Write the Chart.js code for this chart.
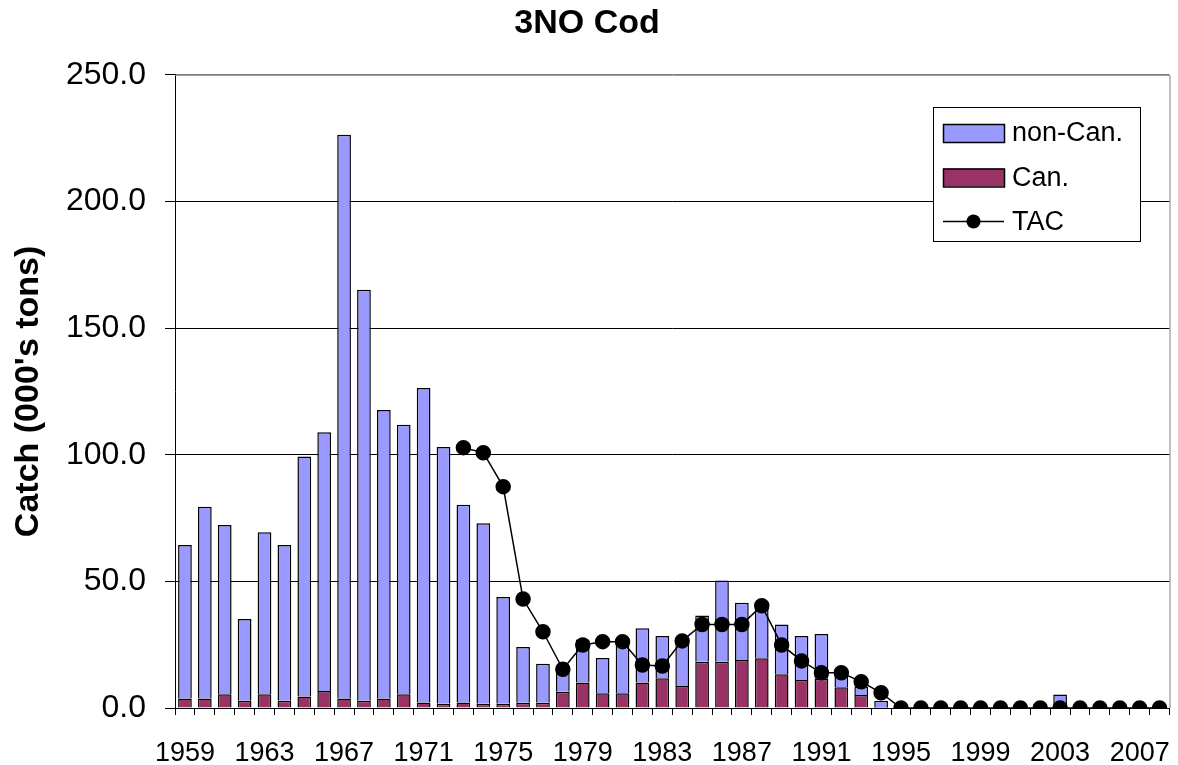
<!DOCTYPE html>
<html>
<head>
<meta charset="utf-8">
<script src="https://cdn.jsdelivr.net/npm/chart.js@4.4.1/dist/chart.umd.min.js"></script>
<style>
  html, body { margin: 0; padding: 0; background: #fff; }
  #wrap { width: 1178px; height: 765px; }
</style>
</head>
<body>
<div id="wrap"><canvas id="chart"></canvas></div>
<script>
// Years on the category axis
const years = [];
for (let y = 1959; y <= 2008; y++) years.push(String(y));

// Canadian catch (000's tons)
const canCatch = [
  3.8, 3.8, 5.4, 2.9, 5.4, 2.9, 4.5, 6.7, 3.8, 2.9,
  3.8, 5.4, 2.2, 1.7, 2.2, 1.7, 1.7, 2.1, 2.1, 6.4,
  10.1, 5.8, 5.8, 10.1, 11.7, 8.7, 18.3, 18.3, 19.0, 19.6,
  13.3, 11.1, 11.5, 8.2, 5.1, 0.1, 0, 0, 0, 0,
  0, 0, 0, 0, 0, 0, 0, 0, 0, 0
];

// Non-Canadian catch (000's tons)
const nonCanCatch = [
  60.6, 75.7, 66.9, 32.2, 64.0, 61.5, 94.8, 102.2, 222.5, 162.2,
  113.9, 106.4, 124.1, 101.3, 78.0, 71.2, 42.1, 22.0, 15.4, 8.6,
  16.9, 13.9, 19.2, 21.4, 16.7, 17.3, 18.2, 32.0, 22.6, 22.4,
  19.7, 17.3, 17.7, 4.3, 3.4, 2.8, 0, 0, 0, 0,
  0, 0, 0, 0, 5.3, 0, 0, 0, 0, 0
];

// Total allowable catch (no TAC before 1973)
const tac = [
  null, null, null, null, null, null, null, null, null, null,
  null, null, null, null, 102.8, 100.8, 87.4, 43.0, 30.1, 15.3,
  24.9, 26.2, 26.2, 17.0, 16.6, 26.5, 33.0, 33.0, 33.0, 40.4,
  24.9, 18.6, 13.9, 13.9, 10.4, 6.0, 0, 0, 0, 0,
  0, 0, 0, 0, 0, 0, 0, 0, 0, 0
];

const yTicks = [0, 50, 100, 150, 200, 250];

const FONT = 'Arial, "Liberation Sans", sans-serif';

// Excel-style plot border (grey top/right) and legend box inside the plot
const frameAndLegend = {
  id: 'frameAndLegend',
  afterDraw(chart) {
    const ctx = chart.ctx;
    const a = chart.chartArea;
    ctx.save();
    ctx.strokeStyle = '#808080';
    ctx.lineWidth = 1;
    ctx.beginPath();
    ctx.moveTo(a.left, a.top + 0.5);
    ctx.lineTo(a.right + 0.5, a.top + 0.5);
    ctx.lineTo(a.right + 0.5, a.bottom);
    ctx.stroke();

    // legend
    const bx = 933, by = 107, bw = 207, bh = 134;
    ctx.fillStyle = '#fff';
    ctx.fillRect(bx, by, bw, bh);
    ctx.strokeStyle = '#000';
    ctx.strokeRect(bx + 0.5, by + 0.5, bw, bh);

    const ds = chart.data.datasets;
    const rows = [
      { d: ds[1], y: 133 },
      { d: ds[0], y: 177.5 },
      { d: ds[2], y: 221.5 }
    ];
    ctx.font = '27px ' + FONT;
    ctx.textBaseline = 'middle';
    rows.forEach(r => {
      if (r.d.type === 'line') {
        ctx.strokeStyle = '#000';
        ctx.lineWidth = 1.5;
        ctx.beginPath();
        ctx.moveTo(943, r.y);
        ctx.lineTo(1004, r.y);
        ctx.stroke();
        ctx.fillStyle = '#000';
        ctx.beginPath();
        ctx.arc(973.5, r.y, 7, 0, Math.PI * 2);
        ctx.fill();
      } else {
        ctx.fillStyle = r.d.backgroundColor;
        ctx.fillRect(943, r.y - 9, 61, 18);
        ctx.strokeStyle = '#000';
        ctx.lineWidth = 1.5;
        ctx.strokeRect(943.5, r.y - 8.5, 61, 18);
      }
      ctx.fillStyle = '#000';
      ctx.textAlign = 'left';
      ctx.fillText(r.d.label, 1012, r.y + 1);
    });
    ctx.restore();
  }
};

new Chart(document.getElementById('chart').getContext('2d'), {
  type: 'bar',
  data: {
    labels: years,
    datasets: [
      {
        type: 'bar',
        label: 'Can.',
        data: canCatch,
        backgroundColor: '#993366',
        borderColor: '#000',
        borderWidth: 1.5,
        barPercentage: 0.69,
        categoryPercentage: 1,
        order: 1
      },
      {
        type: 'bar',
        label: 'non-Can.',
        data: nonCanCatch,
        backgroundColor: '#9999FF',
        borderColor: '#000',
        borderWidth: 1.5,
        barPercentage: 0.69,
        categoryPercentage: 1,
        order: 2
      },
      {
        type: 'line',
        label: 'TAC',
        data: tac,
        borderColor: '#000',
        borderWidth: 1.5,
        backgroundColor: '#000',
        pointBackgroundColor: '#000',
        pointBorderColor: '#000',
        pointRadius: 7,
        pointHoverRadius: 7,
        tension: 0,
        spanGaps: false,
        order: 0
      }
    ]
  },
  options: {
    responsive: true,
    maintainAspectRatio: false,
    animation: false,
    layout: { padding: { left: 0, right: 4, top: 0, bottom: 0 } },
    plugins: {
      legend: { display: false },
      tooltip: { enabled: false },
      title: {
        display: true,
        text: '3NO Cod',
        color: '#000',
        font: { family: FONT, size: 34, weight: 'bold' },
        padding: { top: 3, bottom: 31 }
      }
    },
    scales: {
      x: {
        stacked: true,
        offset: true,
        border: { color: '#000', width: 1 },
        grid: {
          offset: true,
          drawOnChartArea: false,
          drawTicks: true,
          tickLength: 7,
          tickColor: '#000'
        },
        ticks: {
          autoSkip: false,
          maxRotation: 0,
          minRotation: 0,
          padding: 22,
          color: '#000',
          font: { family: FONT, size: 27 },
          callback: function(value, index) {
            return index % 4 === 0 ? this.getLabelForValue(value) : '';
          }
        },
        afterFit: scale => {
          scale.height = 57;
          scale.paddingLeft = 0;
          scale.paddingRight = 0;
        }
      },
      y: {
        stacked: true,
        min: 0,
        max: 250,
        border: { color: '#000', width: 1 },
        grid: {
          color: ctx => (ctx.tick && ctx.tick.value === 250 ? '#808080' : '#000'),
          tickColor: '#000',
          tickLength: 10,
          lineWidth: 1
        },
        afterBuildTicks: scale => {
          scale.ticks = yTicks.map(v => ({ value: v }));
        },
        ticks: {
          padding: 19,
          color: '#000',
          font: { family: FONT, size: 32 },
          callback: value => Number(value).toFixed(1)
        },
        title: {
          display: true,
          text: "Catch (000's tons)",
          color: '#000',
          font: { family: FONT, size: 34, weight: 'bold' },
          padding: { top: 8, bottom: 0 }
        },
        afterFit: scale => { scale.width = 175; }
      }
    }
  },
  plugins: [frameAndLegend]
});
</script>
</body>
</html>
